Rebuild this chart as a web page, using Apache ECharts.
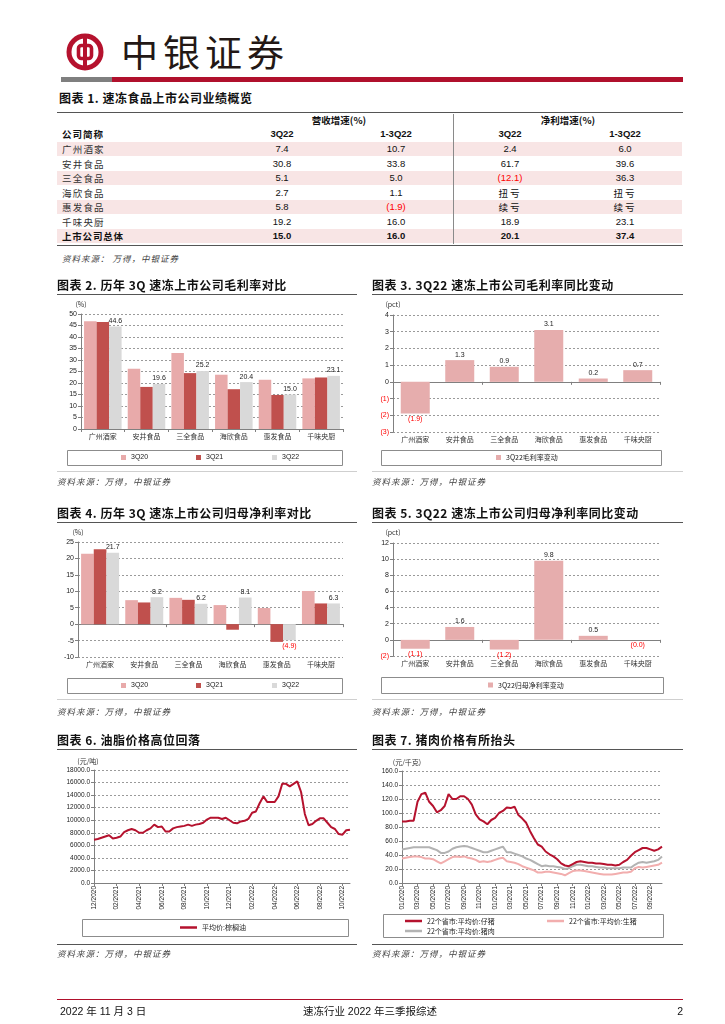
<!DOCTYPE html>
<html><head><meta charset="utf-8">
<script src="https://cdn.jsdelivr.net/npm/echarts@6/dist/echarts.min.js"></script>
<style>
body{margin:0;background:#fff;}
#page{position:relative;width:725px;height:1024px;overflow:hidden;font-family:'Liberation Sans','Noto Sans CJK SC',sans-serif;color:#111;}
.abs{position:absolute;white-space:nowrap;}
.title{font-family:'Noto Sans CJK SC';font-weight:700;font-size:12px;letter-spacing:0.5px;line-height:14px;color:#111;}
.hr{position:absolute;height:0;border-top:1.5px solid #555;}
.src{font-family:'Noto Sans CJK SC';font-style:italic;font-size:8.5px;line-height:12px;color:#444;letter-spacing:1px;}
.cell{position:absolute;white-space:nowrap;text-align:center;width:120px;font-size:9.5px;line-height:12px;}
#chart{position:absolute;left:0;top:0;width:725px;height:1024px;}
</style></head>
<body><div id="page">
<svg class="abs" style="left:66px;top:33px" width="38" height="38" viewBox="0 0 38 38">
<circle cx="19" cy="19" r="16" fill="none" stroke="#b5122e" stroke-width="5"/>
<rect x="12.5" y="12.5" width="13" height="13" rx="3" fill="none" stroke="#b5122e" stroke-width="3.6"/>
<rect x="17" y="3" width="4" height="32" fill="#b5122e"/>
</svg>
<div class="abs" style="left:121px;top:29px;font-family:'Noto Sans CJK SC';font-size:37px;line-height:44px;letter-spacing:5px;color:#231815;">中银证券</div>
<div class="abs" style="left:61px;top:77px;width:51px;height:5px;background:#7f7f7f"></div>
<div class="abs" style="left:112px;top:77px;width:571px;height:5px;background:#b0102c"></div>
<div id="tbl"></div>
<div id="chart"></div>
<div id="txt"></div>
<div class="hr" style="left:57px;top:999px;width:626px;border-top:1.5px solid #b0102c"></div>
<div class="abs" style="left:60px;top:1005px;font-size:10.5px;line-height:13px;font-family:'Liberation Sans','Noto Sans CJK SC'">2022 年 11 月 3 日</div>
<div class="abs" style="left:290px;top:1005px;width:160px;text-align:center;font-size:10.5px;line-height:13px;font-family:'Liberation Sans','Noto Sans CJK SC'">速冻行业 2022 年三季报综述</div>
<div class="abs" style="left:650px;top:1005px;width:33px;text-align:right;font-size:10.5px;line-height:13px">2</div>
</div>
<script>
// ---------- table data ----------
const tableCompanies = ['广州酒家','安井食品','三全食品','海欣食品','惠发食品','千味央厨','上市公司总体'];
const revenue3Q22 = ['7.4','30.8','5.1','2.7','5.8','19.2','15.0'];
const revenue13Q22 = ['10.7','33.8','5.0','1.1','(1.9)','16.0','16.0'];
const profit3Q22 = ['2.4','61.7','(12.1)','扭亏','续亏','18.9','20.1'];
const profit13Q22 = ['6.0','39.6','36.3','扭亏','续亏','23.1','37.4'];
const tableHeaders = ['公司简称','3Q22','1-3Q22','3Q22','1-3Q22'];
const tableGroups = ['营收增速(%)','净利增速(%)'];

// ---------- chart data ----------
const chartCats = ['广州酒家','安井食品','三全食品','海欣食品','惠发食品','千味央厨'];
const gm3Q20 = [46.8, 26.2, 33.0, 23.6, 21.4, 22.0];
const gm3Q21 = [46.5, 18.3, 24.3, 17.3, 14.8, 22.4];
const gm3Q22 = [44.6, 19.6, 25.2, 20.4, 15.0, 23.1];
const gmChange = [-1.9, 1.3, 0.9, 3.1, 0.2, 0.7];
const npm3Q20 = [21.4, 7.3, 8.0, 5.8, 4.9, 10.1];
const npm3Q21 = [22.8, 6.6, 7.4, -1.7, -5.4, 6.3];
const npm3Q22 = [21.7, 8.2, 6.2, 8.1, -4.9, 6.3];
const npmChange = [-1.1, 1.6, -1.2, 9.8, 0.5, -0.0];

const palmOil = [6900,7000,7200,7400,7600,7100,7200,7400,8100,8400,
 8600,8400,8000,8000,8400,8700,9300,8900,9000,8200,
 8200,8700,8900,9000,9100,9300,9100,9300,9400,9600,
 10100,10400,10400,10400,10200,10400,10000,9600,9500,9800,
 9900,10200,11200,11400,12700,13800,12900,12900,12900,13800,
 15800,15800,15400,15800,16200,14500,11000,9200,9400,9900,
 10300,10300,9600,8900,8600,7800,7700,8400,8500];
const piglet = [88,88,89,89,116,127,129,116,110,101,104,110,127,120,120,124,124,120,112,98,
 91,88,84,90,93,100,103,108,107,109,97,92,86,74,64,55,52,45,41,38,
 34,28,25,24,27,30,31,30,29,29,28,28,27,26,26,25,26,30,33,39,44,47,50,50,48,46,48,52];
const liveHog = [35,36,37,38,38,37,35,35,34,31,28,31,34,37,38,37,38,36,35,33,
 30,31,30,31,33,35,36,31,30,29,27,24,22,20,18,15,15,16,16,15,
 14,13,11,14,17,18,18,17,16,15,14,13,12,12,12,13,14,15,15,16,21,23,22,23,24,25,26,29];
const pork = [48,49,50,51,51,51,51,51,49,47,43,43,45,49,51,52,53,52,50,48,
 46,44,44,46,48,50,52,44,44,42,40,38,35,33,30,27,24,25,24,24,
 23,22,20,21,24,26,26,25,24,24,23,22,22,21,21,21,21,22,22,22,26,29,30,29,30,31,33,38];

const chartTitles = [
 ['图表 2. 历年 3Q 速冻上市公司毛利率对比',57,285,300],
 ['图表 3. 3Q22 速冻上市公司毛利率同比变动',372,285,311],
 ['图表 4. 历年 3Q 速冻上市公司归母净利率对比',57,513,300],
 ['图表 5. 3Q22 速冻上市公司归母净利率同比变动',372,513,311],
 ['图表 6. 油脂价格高位回落',57,740,300],
 ['图表 7. 猪肉价格有所抬头',372,740,311]
];
const sourceText = '资料来源：万得，中银证券';

// date categories (axis labels)
function makeDates(y, m, days, n){
  const out=[];
  while(out.length<n){ for(const d of days){ if(out.length<n) out.push(y+'-'+String(m).padStart(2,'0')+'-'+String(d).padStart(2,'0')); } m++; if(m>12){m=1;y++;} }
  return out;
}
const palmDates = makeDates(2020,12,[1,11,21],palmOil.length);
const pigDates = makeDates(2020,1,[1,16],piglet.length);

// ---------- HTML table & titles ----------
const tbl = document.getElementById('tbl');
function add(parent, html, style, cls){ const d=document.createElement('div'); d.className=cls||'abs'; d.innerHTML=html; d.setAttribute('style',style); parent.appendChild(d); return d; }
add(tbl,'图表 1. 速冻食品上市公司业绩概览','left:59px;top:91px;','abs title');
add(tbl,'','left:57px;top:112px;width:626px;','hr');
const rowY0=149, rowH=14.5;
tableCompanies.forEach((c,i)=>{ if(i%2===0) add(tbl,'',`left:57px;top:${rowY0+i*rowH-7.25}px;width:625px;height:${rowH}px;background:#f8e5e5;`); });
add(tbl,'',`left:453px;top:114px;width:0;height:130px;border-left:1.5px solid #8a8a8a;`);
add(tbl,'','left:57px;top:245px;width:626px;','hr');
const colX=[282,396,510,625];
const grpX=[339,568];
tableGroups.forEach((g,i)=>add(tbl,g,`left:${grpX[i]-60}px;top:114px;font-weight:700;font-family:'Noto Sans CJK SC','Liberation Sans';`,'cell'));
add(tbl,tableHeaders[0],`left:62px;top:128px;text-align:left;font-weight:700;font-family:'Noto Sans CJK SC';letter-spacing:1px;`,'cell');
tableHeaders.slice(1).forEach((h,i)=>add(tbl,h,`left:${colX[i]-60}px;top:128px;font-weight:700;`,'cell'));
const cols=[revenue3Q22,revenue13Q22,profit3Q22,profit13Q22];
tableCompanies.forEach((c,i)=>{
  const y=rowY0+i*rowH-6; const bold=i===tableCompanies.length-1;
  add(tbl,c,`left:62px;top:${y}px;text-align:left;font-family:'Noto Sans CJK SC';letter-spacing:1.2px;${bold?'font-weight:700;letter-spacing:0.8px;':'color:#333;'}`,'cell');
  cols.forEach((col,j)=>{ const v=col[i]; const red=v.startsWith('('); const cjk=/[\u4e00-\u9fff]/.test(v);
    add(tbl,v,`left:${colX[j]-60}px;top:${y}px;${bold?'font-weight:700;':''}${red?'color:#ff0000;':''}${cjk?"font-family:'Noto Sans CJK SC';letter-spacing:2px;":''}`,'cell'); });
});
add(tbl,'资料来源： 万得，中银证券','left:62px;top:252px;','abs src');

const txt=document.getElementById('txt');
chartTitles.forEach(t=>{ add(txt,t[0],`left:${t[1]}px;top:${t[2]-7}px;`,'abs title'); add(txt,'',`left:${t[1]}px;top:${t[2]+9}px;width:${t[3]}px;`,'hr'); });
[[57,481,300],[372,481,311],[57,711,300],[372,711,311],[57,953,300],[372,953,311]].forEach(s=>add(txt,sourceText,`left:${s[0]}px;top:${s[1]-6}px;`,'abs src'));
[[57,471,300,'#cfcfcf'],[372,471,311,'#cfcfcf'],[57,699,300,'#cfcfcf'],[372,699,311,'#cfcfcf'],[57,944,300,'#555'],[372,944,311,'#555']].forEach(l=>add(txt,'',`left:${l[0]}px;top:${l[1]}px;width:${l[2]}px;border-top:1.5px solid ${l[3]};`,'hr'));

// ---------- ECharts ----------
const NUM="'Liberation Sans', Arial, sans-serif";
const CJK="'Noto Sans CJK SC', sans-serif";
const C20='#e8aaaa', C21='#c0504d', C22='#d9d9d9', CCH='#e6adad';
const isNeg=v=>v<0||Object.is(v,-0);
const fmtNeg=v=>isNeg(v)?'('+Math.abs(v).toFixed(1)+')':v.toFixed(1);
function labeled(arr){ return arr.map(v=>({value:v,label:{show:true,position:isNeg(v)?'bottom':'top',distance:2,color:isNeg(v)?'#ff0000':'#222',formatter:fmtNeg(v)}})); }
const grids=[
 {left:81,top:314,width:262,height:115},
 {left:393,top:315,width:267,height:117},
 {left:78,top:542,width:265,height:115},
 {left:393,top:543,width:267,height:113},
 {left:94,top:770,width:256,height:113},
 {left:402,top:771,width:260,height:112}
].map(g=>Object.assign({containLabel:false,outerBoundsMode:'none'},g));
const axisLineStyle={color:'#808080',width:1};
const split={show:true,lineStyle:{color:'#9a9a9a',type:[2,2],width:1}};
function yAx(gi,min,max,interval,name,extra){
  return Object.assign({type:'value',gridIndex:gi,min,max,interval,name,nameLocation:'end',nameGap:6,
   nameTextStyle:{fontSize:7,color:'#333',fontFamily:CJK,align:'center'},
   axisLine:{show:true,lineStyle:axisLineStyle},axisTick:{show:true,length:3,lineStyle:axisLineStyle},
   splitLine:split,axisLabel:{fontSize:7,color:'#222',margin:4,fontFamily:NUM}},extra||{});
}
const negLabel={fontSize:7,margin:4,fontFamily:NUM,formatter:v=>v<0?'('+(-v)+')':String(v),color:v=>Number(v)<0?'#ff0000':'#222'};
function catAx(gi,atZero){
  return {type:'category',gridIndex:gi,data:chartCats,position:'bottom',
    axisLine:{show:!atZero,onZero:false,lineStyle:axisLineStyle},axisTick:{show:!atZero,length:3,lineStyle:axisLineStyle},
    axisLabel:{interval:0,fontSize:7,color:'#333',fontFamily:CJK,margin:4}};
}
function zeroAx(gi){
  return {type:'category',gridIndex:gi,data:chartCats,position:'bottom',
    axisLine:{show:true,onZero:true,lineStyle:axisLineStyle},axisTick:{show:true,length:3,lineStyle:axisLineStyle},axisLabel:{show:false},splitLine:{show:false}};
}
const dateFmt=v=>v.slice(5,7)+'/'+v.slice(0,4);
function dateAx(gi,dates,evenMonths){
  const show=(i,v)=>v.slice(8)==='01' && (Number(v.slice(5,7))%2===(evenMonths?0:1));
  return {type:'category',gridIndex:gi,data:dates,boundaryGap:false,
    axisLine:{show:true,lineStyle:axisLineStyle},axisTick:{show:true,interval:show,length:3,lineStyle:axisLineStyle},
    axisLabel:{interval:show,rotate:90,fontSize:6.5,color:'#222',fontFamily:NUM,margin:3,formatter:dateFmt}};
}
const xAxes=[catAx(0,false),catAx(1,true),zeroAx(1),catAx(2,true),zeroAx(2),catAx(3,true),zeroAx(3),dateAx(4,palmDates,true),dateAx(5,pigDates,false)];
const yAxes=[
 yAx(0,0,50,5,'(%)',{nameGap:6}),
 yAx(1,-3,4,1,'(pct)',{axisLabel:negLabel,nameGap:7}),
 yAx(2,-10,25,5,'(%)',{nameGap:6}),
 yAx(3,-2,12,2,'(pct)',{axisLabel:negLabel,nameGap:7}),
 yAx(4,0,18000,2000,'(元/吨)',{axisLabel:{fontSize:6.5,color:'#222',margin:4,fontFamily:NUM,formatter:v=>v.toFixed(1)},nameGap:5,nameTextStyle:{fontSize:7,color:'#333',fontFamily:CJK,align:'center',padding:[0,12,0,0]}}),
 yAx(5,0,160,20,'(元/千克)',{axisLabel:{fontSize:6.5,color:'#222',margin:4,fontFamily:NUM,formatter:v=>v.toFixed(1)},nameGap:5,nameTextStyle:{fontSize:7,color:'#333',fontFamily:CJK,align:'center',padding:[0,0,0,10]}})
];
const barBase={type:'bar',barGap:'0%',barCategoryGap:'14%'};
const series=[
 Object.assign({name:'3Q20',xAxisIndex:0,yAxisIndex:0,data:gm3Q20,itemStyle:{color:C20}},barBase),
 Object.assign({name:'3Q21',xAxisIndex:0,yAxisIndex:0,data:gm3Q21,itemStyle:{color:C21}},barBase),
 Object.assign({name:'3Q22',xAxisIndex:0,yAxisIndex:0,data:labeled(gm3Q22),itemStyle:{color:C22},label:{fontSize:7,fontFamily:NUM}},barBase),
 {type:'bar',name:'3Q22毛利率变动',xAxisIndex:1,yAxisIndex:1,data:labeled(gmChange),barWidth:29,itemStyle:{color:CCH},label:{fontSize:7,fontFamily:NUM}},
 Object.assign({name:'3Q20',xAxisIndex:3,yAxisIndex:2,data:npm3Q20,itemStyle:{color:C20}},barBase),
 Object.assign({name:'3Q21',xAxisIndex:3,yAxisIndex:2,data:npm3Q21,itemStyle:{color:C21}},barBase),
 Object.assign({name:'3Q22',xAxisIndex:3,yAxisIndex:2,data:labeled(npm3Q22),itemStyle:{color:C22},label:{fontSize:7,fontFamily:NUM}},barBase),
 {type:'bar',name:'3Q22归母净利率变动',xAxisIndex:5,yAxisIndex:3,data:labeled(npmChange),barWidth:29,itemStyle:{color:CCH},label:{fontSize:7,fontFamily:NUM}},
 {type:'line',name:'平均价:棕榈油',xAxisIndex:7,yAxisIndex:4,data:palmOil,showSymbol:false,symbol:'none',lineStyle:{color:'#b5122e',width:2},itemStyle:{color:'#b5122e'}},
 {type:'line',name:'22个省市:平均价:猪肉',xAxisIndex:8,yAxisIndex:5,data:pork,showSymbol:false,symbol:'none',lineStyle:{color:'#b3b3b3',width:2},itemStyle:{color:'#b3b3b3'}},
 {type:'line',name:'22个省市:平均价:生猪',xAxisIndex:8,yAxisIndex:5,data:liveHog,showSymbol:false,symbol:'none',lineStyle:{color:'#f2aeae',width:2},itemStyle:{color:'#f2aeae'}},
 {type:'line',name:'22个省市:平均价:仔猪',xAxisIndex:8,yAxisIndex:5,data:piglet,showSymbol:false,symbol:'none',lineStyle:{color:'#b5122e',width:2},itemStyle:{color:'#b5122e'}}
];
function lg(name,left,cy,icon,w,h,font){
  return {data:[name],left,top:cy-5,orient:'horizontal',icon,itemWidth:w,itemHeight:h,itemGap:0,padding:0,selectedMode:false,
    textStyle:{fontSize:7,lineHeight:10,color:'#222',fontFamily:font||NUM}};
}
const legends=[
 lg('3Q20',121,457.5,'rect',5,5),lg('3Q21',196,457.5,'rect',5,5),lg('3Q22',272,457.5,'rect',5,5),
 lg('3Q22毛利率变动',496,457.5,'rect',5,5,CJK),
 lg('3Q20',121,685.5,'rect',5,5),lg('3Q21',196,685.5,'rect',5,5),lg('3Q22',272,685.5,'rect',5,5),
 lg('3Q22归母净利率变动',488,685,'rect',5,5,CJK),
 lg('平均价:棕榈油',180,927.5,'rect',17,2.5,CJK),
 lg('22个省市:平均价:仔猪',405,921,'rect',17,2.5,CJK),
 lg('22个省市:平均价:生猪',547,921,'rect',17,2.5,CJK),
 lg('22个省市:平均价:猪肉',405,931,'rect',17,2.5,CJK)
];
const boxes=[[67,450,275,15],[381,450,280,15],[67,678,275,15],[381,677,282,16],[82,919,266,17],[383,914,280,23]];
const graphic=boxes.map(b=>({type:'rect',shape:{x:b[0]+0.5,y:b[1]+0.5,width:b[2],height:b[3]},style:{fill:'none',stroke:'#8c8c8c',lineWidth:1},silent:true}));
const chart=echarts.init(document.getElementById('chart'),null,{renderer:'canvas'});
chart.setOption({animation:false,textStyle:{fontFamily:NUM},grid:grids,xAxis:xAxes,yAxis:yAxes,series,legend:legends,graphic});
</script>
</body></html>
